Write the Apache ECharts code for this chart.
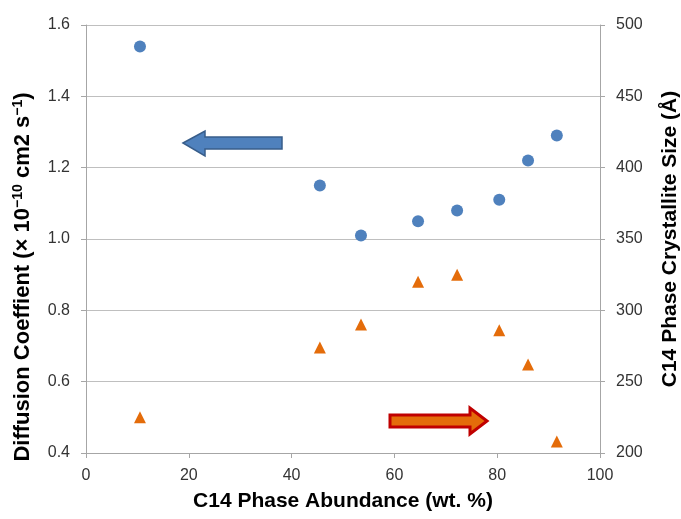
<!DOCTYPE html>
<html>
<head>
<meta charset="utf-8">
<script src="https://cdn.jsdelivr.net/npm/echarts@6/dist/echarts.min.js"></script>
<style>
  html, body { margin: 0; padding: 0; background: #fff; }
  #chart { width: 681px; height: 519px; }
</style>
</head>
<body>
<div id="chart"></div>
<script>
// C14 phase abundance (wt. %)
var abundance = [10.5, 45.5, 53.5, 64.6, 72.2, 80.4, 86, 91.6];
// diffusion coefficient (x 10^-10 cm2 s^-1), left axis
var diffusion = [1.54, 1.15, 1.01, 1.05, 1.08, 1.11, 1.22, 1.29];
// crystallite size (Angstrom), right axis
var crystallite = [225, 274, 290, 320, 325, 286, 262, 208];

function pairs(xs, ys) {
    var out = [];
    for (var i = 0; i < xs.length; i++) {
        out.push([xs[i], ys[i]]);
    }
    return out;
}

var chart = echarts.init(document.getElementById('chart'));

var font = 'Liberation Sans';
var nameStyleBase = { color: '#000', fontSize: 21, fontWeight: 'bold', fontFamily: font };

var option = {
    animation: false,
    backgroundColor: '#fff',
    grid: {
        left: 86,
        right: 81,
        top: 25,
        bottom: 66,
        outerBoundsMode: 'none',
        containLabel: false
    },
    xAxis: {
        type: 'value',
        min: 0,
        max: 100,
        interval: 20,
        name: 'C14 Phase Abundance (wt. %)',
        nameLocation: 'middle',
        nameGap: 38,
        nameTextStyle: nameStyleBase,
        axisLine: { lineStyle: { color: '#a6a6a6' } },
        axisTick: { show: true, length: 5, lineStyle: { color: '#a6a6a6' } },
        axisLabel: { color: '#333', fontSize: 16, fontFamily: font, margin: 15 },
        splitLine: { show: false }
    },
    yAxis: [{
        type: 'value',
        min: 0.4,
        max: 1.6,
        interval: 0.2,
        name: '{b|Diffusion Coeffient (× 10}{s|−10}{b| cm2 s}{s|−1}{b|)}',
        nameLocation: 'middle',
        nameRotate: 90,
        nameGap: 51,
        nameTextStyle: {
            padding: [0, 76, 0, 0],
            rich: {
                b: { color: '#000', fontSize: 22, fontWeight: 'bold', fontFamily: font },
                s: { color: '#000', fontSize: 14, fontWeight: 'bold', fontFamily: font, padding: [0, 0, 10, 0] }
            }
        },
        axisLine: { show: true, lineStyle: { color: '#a6a6a6' } },
        axisTick: { show: true, length: 5, lineStyle: { color: '#a6a6a6' } },
        axisLabel: {
            color: '#333', fontSize: 16, fontFamily: font, margin: 16,
            formatter: function (v) { return v.toFixed(1); }
        },
        splitLine: { show: true, lineStyle: { color: '#bfbfbf' } }
    }, {
        type: 'value',
        min: 200,
        max: 500,
        interval: 50,
        name: 'C14 Phase Crystallite Size (Å)',
        nameLocation: 'middle',
        nameRotate: 90,
        nameGap: 60,
        nameTextStyle: nameStyleBase,
        axisLine: { show: true, lineStyle: { color: '#a6a6a6' } },
        axisTick: { show: true, length: 5, lineStyle: { color: '#a6a6a6' } },
        axisLabel: { color: '#333', fontSize: 16, fontFamily: font, margin: 16 },
        splitLine: { show: false }
    }],
    series: [{
        name: 'Diffusion Coefficient',
        type: 'scatter',
        yAxisIndex: 0,
        symbol: 'circle',
        symbolSize: 12,
        itemStyle: { color: '#4f81bd', opacity: 1 },
        data: pairs(abundance, diffusion)
    }, {
        name: 'Crystallite Size',
        type: 'scatter',
        yAxisIndex: 1,
        symbol: 'triangle',
        symbolSize: 12,
        itemStyle: { color: '#e46c0a', opacity: 1 },
        data: pairs(abundance, crystallite)
    }],
    graphic: [{
        // blue arrow pointing to the left axis
        type: 'polygon',
        shape: {
            points: [[183, 143], [205, 131], [205, 137], [282, 137], [282, 149], [205, 149], [205, 156]]
        },
        style: { fill: '#4f81bd', stroke: '#385d8a', lineWidth: 1.5 }
    }, {
        // orange arrow pointing to the right axis
        type: 'polygon',
        shape: {
            points: [[390, 415], [470, 415], [470, 408], [487, 421], [470, 434], [470, 427], [390, 427]]
        },
        style: { fill: '#e46c0a', stroke: '#c00000', lineWidth: 3 }
    }]
};

chart.setOption(option);
</script>
</body>
</html>
